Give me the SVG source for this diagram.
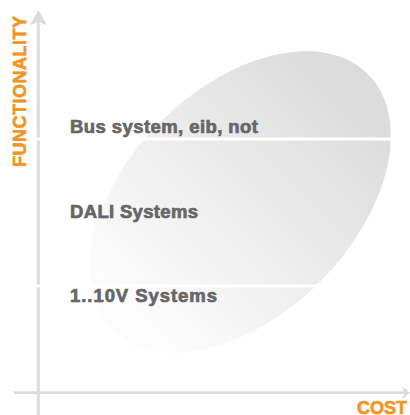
<svg xmlns="http://www.w3.org/2000/svg" width="410" height="415" viewBox="0 0 410 415">
  <style>
    .axis { stroke: #dcdcdc; fill: none; }
    .head { fill: #dcdcdc; }
    .sep { stroke: #ffffff; stroke-width: 3; }
    .lbl { font-family: "Liberation Sans", Arial, sans-serif; font-weight: bold; font-size: 18.5px; fill: #666666; stroke: #666666; stroke-width: 0.7px; }
    .ax { font-family: "Liberation Sans", Arial, sans-serif; font-weight: bold; font-size: 18px; fill: #f39422; stroke: #f39422; stroke-width: 0.6px; }
  </style>
  <defs>
    <linearGradient id="g" gradientUnits="userSpaceOnUse" x1="90" y1="0" x2="392" y2="0">
      <stop offset="0" stop-color="#fcfcfc"/>
      <stop offset="1" stop-color="#dcdcdc"/>
    </linearGradient>
  </defs>
  <rect width="410" height="415" fill="#ffffff"/>
  <g id="connectors">
    <line class="axis" x1="38.3" y1="20" x2="38.3" y2="415" stroke-width="3"/>
    <polygon class="head" points="38.5,10 47.3,25.5 38.5,22 29.8,25.5"/>
    <line class="axis" x1="14" y1="392.7" x2="405" y2="392.7" stroke-width="2.7"/>
    <polygon class="head" points="402,386 410,392.7 402,399.4 404.5,392.7"/>
  </g>
  <g id="region">
    <ellipse cx="240" cy="202" rx="181" ry="113" transform="rotate(-45 240 202)" fill="url(#g)"/>
    <line class="sep" x1="36" y1="139" x2="394" y2="139"/>
    <line class="sep" x1="36" y1="286" x2="320" y2="286"/>
  </g>
  <g id="bus">
    <text class="lbl" x="70" y="133" textLength="188" lengthAdjust="spacing">Bus system, eib, not</text>
  </g>
  <g id="dali">
    <text class="lbl" x="70" y="217.5" textLength="128" lengthAdjust="spacing">DALI Systems</text>
  </g>
  <g id="v110">
    <text class="lbl" x="70" y="301.5" textLength="147" lengthAdjust="spacing">1..10V Systems</text>
  </g>
  <g id="y-label">
    <text class="ax" transform="translate(26,167) rotate(-90)" textLength="151" lengthAdjust="spacing">FUNCTIONALITY</text>
  </g>
  <g id="x-label">
    <text class="ax" x="357" y="414" textLength="50" lengthAdjust="spacing">COST</text>
  </g>
</svg>
